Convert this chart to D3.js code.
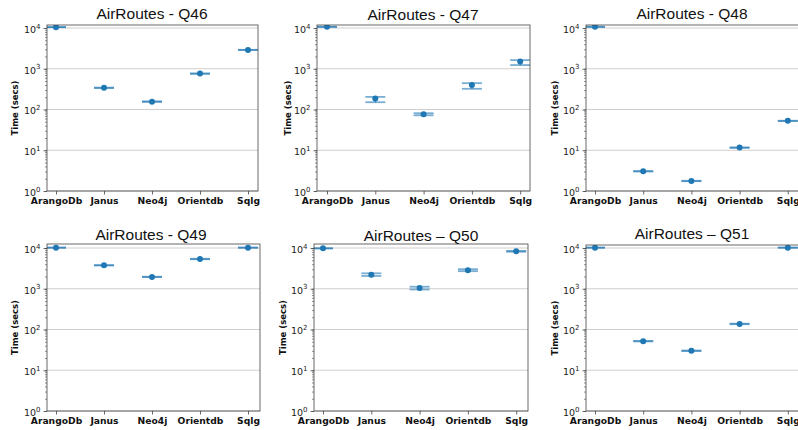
<!DOCTYPE html>
<html>
<head>
<meta charset="utf-8">
<script src="https://cdn.jsdelivr.net/npm/d3@7"></script>
<style>
  body { margin: 0; background: #fff; }
  svg { display: block; }
</style>
</head>
<body>
<div id="chart"></div>
<script>
// engines on the x axis, one panel per query
var engines = ["ArangoDb", "Janus", "Neo4j", "Orientdb", "Sqlg"];
var titles = ["AirRoutes - Q46", "AirRoutes - Q47", "AirRoutes - Q48",
              "AirRoutes - Q49", "AirRoutes \u2013 Q50", "AirRoutes \u2013 Q51"];
var yTicks = [1, 10, 100, 1000, 10000];

// mean time (secs) per engine, with low / high of the error bars
var meanQ46 = [10500, 340, 156, 760, 2900];
var lowQ46  = [10500, 335, 153, 750, 2880];
var highQ46 = [10500, 345, 159, 770, 2920];

var meanQ47 = [10700, 186, 77, 397, 1510];
var lowQ47  = [10600, 151, 72, 322, 1230];
var highQ47 = [10800, 204, 81, 443, 1630];

var meanQ48 = [10700, 3.05, 1.76, 11.6, 52.6];
var lowQ48  = [10600, 3.0, 1.74, 11.4, 52];
var highQ48 = [10800, 3.1, 1.78, 11.8, 53];

var meanQ49 = [10200, 3760, 1950, 5370, 10200];
var lowQ49  = [10100, 3720, 1930, 5300, 10100];
var highQ49 = [10300, 3800, 1970, 5440, 10300];

var meanQ50 = [9800, 2220, 1040, 2860, 8300];
var lowQ50  = [9750, 2060, 960, 2700, 8100];
var highQ50 = [9850, 2390, 1120, 3020, 8500];

var meanQ51 = [10200, 51.8, 30, 137, 10200];
var lowQ51  = [10100, 51, 29.5, 135, 10100];
var highQ51 = [10300, 52.6, 30.5, 139, 10300];

var means = [meanQ46, meanQ47, meanQ48, meanQ49, meanQ50, meanQ51];
var lows  = [lowQ46, lowQ47, lowQ48, lowQ49, lowQ50, lowQ51];
var highs = [highQ46, highQ47, highQ48, highQ49, highQ50, highQ51];

// panel frames (pixels)
var panels = [
  {x0: 47,  x1: 258, top: 25,  bottom: 191, first: 56,  step: 48,   tx: 152, ty: 18.5, ylab: 15},
  {x0: 317, x1: 530, top: 25,  bottom: 191, first: 327, step: 48.3, tx: 423, ty: 20,   ylab: 288},
  {x0: 586, x1: 799, top: 25,  bottom: 191, first: 595, step: 48.2, tx: 692, ty: 19,   ylab: 555},
  {x0: 47,  x1: 260, top: 244, bottom: 411, first: 56,  step: 48,   tx: 151, ty: 240,  ylab: 15},
  {x0: 314, x1: 528, top: 244, bottom: 411, first: 323, step: 48.3, tx: 421, ty: 241,  ylab: 283},
  {x0: 586, x1: 799, top: 245, bottom: 411, first: 595, step: 48.2, tx: 692, ty: 239,  ylab: 555}
];

var blue = "#1f77b4";

var svg = d3.select("#chart").append("svg")
    .attr("width", 798)
    .attr("height", 430);

var defs = svg.append("defs");

panels.forEach(function(p, i) {
  var x = d3.scalePoint()
      .domain(engines)
      .range([p.first, p.first + 4 * p.step]);
  var y = d3.scaleLog()
      .domain([1, 10000])
      .range([p.bottom, p.bottom - 163]);

  var g = svg.append("g").attr("class", "panel");

  defs.append("clipPath").attr("id", "clip" + i)
    .append("rect")
      .attr("x", p.x0).attr("y", p.top)
      .attr("width", p.x1 - p.x0).attr("height", p.bottom - p.top);

  // grid
  g.append("g").selectAll("line")
    .data(yTicks)
    .enter().append("line")
      .attr("x1", p.x0).attr("x2", p.x1)
      .attr("y1", function(d) { return y(d); })
      .attr("y2", function(d) { return y(d); })
      .attr("stroke", "#cfcfcf")
      .attr("stroke-width", 1);

  // minor y ticks
  g.append("g")
      .attr("transform", "translate(" + p.x0 + ",0)")
      .call(d3.axisLeft(y).ticks(10).tickSize(2).tickFormat(""))
      .call(function(a) { a.select(".domain").remove(); a.selectAll("line").attr("stroke", "#444").attr("stroke-width", 0.6); });

  // major y ticks
  var ya = g.append("g")
      .attr("transform", "translate(" + p.x0 + ",0)")
      .call(d3.axisLeft(y).tickValues(yTicks).tickSize(3.5).tickPadding(3).tickFormat(function() { return "10"; }));
  ya.select(".domain").remove();
  ya.selectAll("line").attr("stroke", "#444").attr("stroke-width", 0.8);
  ya.selectAll("text")
      .attr("font-family", "DejaVu Sans")
      .attr("font-size", 9.5)
      .attr("fill", "#222")
      .attr("dy", "0.45em")
      .append("tspan")
        .attr("dy", "-0.6em")
        .attr("font-size", 7)
        .text(function(d) { return Math.round(Math.log10(d)); });

  // x ticks
  var xa = g.append("g")
      .attr("transform", "translate(0," + p.bottom + ")")
      .call(d3.axisBottom(x).tickSize(3.5).tickPadding(3));
  xa.select(".domain").remove();
  xa.selectAll("line").attr("stroke", "#444").attr("stroke-width", 0.8);
  xa.selectAll("text")
      .attr("font-family", "DejaVu Sans")
      .attr("font-weight", "bold")
      .attr("font-size", 9.2)
      .attr("fill", "#111");

  // marks
  var m = g.append("g").attr("clip-path", "url(#clip" + i + ")");
  var rows = engines.map(function(e, k) {
    return {e: e, mean: means[i][k], lo: lows[i][k], hi: highs[i][k]};
  });

  m.selectAll("line.err").data(rows).enter().append("line")
      .attr("class", "err")
      .attr("x1", function(d) { return x(d.e); })
      .attr("x2", function(d) { return x(d.e); })
      .attr("y1", function(d) { return y(d.lo); })
      .attr("y2", function(d) { return y(d.hi); })
      .attr("stroke", blue)
      .attr("stroke-width", 1.2);

  ["lo", "hi"].forEach(function(k) {
    m.selectAll("line.cap" + k).data(rows).enter().append("line")
        .attr("class", "cap" + k)
        .attr("x1", function(d) { return x(d.e) - 10; })
        .attr("x2", function(d) { return x(d.e) + 10; })
        .attr("y1", function(d) { return y(d[k]); })
        .attr("y2", function(d) { return y(d[k]); })
        .attr("stroke", blue)
        .attr("stroke-opacity", 0.6)
        .attr("stroke-width", 1.8);
  });

  m.selectAll("circle").data(rows).enter().append("circle")
      .attr("cx", function(d) { return x(d.e); })
      .attr("cy", function(d) { return y(d.mean); })
      .attr("r", 3)
      .attr("fill", blue);

  // frame
  g.append("rect")
      .attr("x", p.x0).attr("y", p.top)
      .attr("width", p.x1 - p.x0).attr("height", p.bottom - p.top)
      .attr("fill", "none")
      .attr("stroke", "#444")
      .attr("stroke-width", 0.8);

  // title and y label
  g.append("text")
      .attr("x", p.tx).attr("y", p.ty)
      .attr("text-anchor", "middle")
      .attr("font-family", "Liberation Sans")
      .attr("font-size", 15.5)
      .attr("fill", "#111")
      .text(titles[i]);

  g.append("text")
      .attr("transform", "translate(" + p.ylab + "," + ((p.top + p.bottom) / 2) + ") rotate(-90)")
      .attr("text-anchor", "middle")
      .attr("dy", "0.35em")
      .attr("font-family", "DejaVu Sans")
      .attr("font-weight", "bold")
      .attr("font-size", 8.5)
      .attr("fill", "#111")
      .text("Time (secs)");
});
</script>
</body>
</html>
